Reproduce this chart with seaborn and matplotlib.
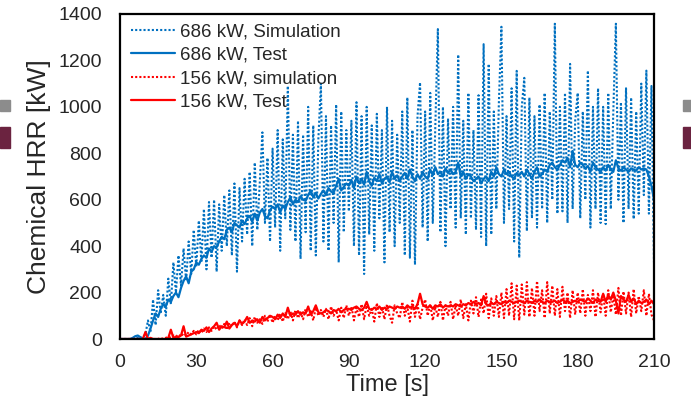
import numpy as np
import pandas as pd
import seaborn as sns
import matplotlib.pyplot as plt
from matplotlib.patches import Rectangle

# time axis, 1 s steps
time_s = np.arange(0, 211)

test_686 = [
    0, 0, 0, 0, 0, 5, 12, 15, 8, 3,
    0, 15, 45, 80, 110, 95, 130, 150, 140, 170,
    160, 185, 200, 180, 220, 250, 270, 240, 290, 300,
    330, 320, 345, 360, 350, 390, 375, 400, 395, 420,
    440, 430, 470, 480, 460, 500, 490, 480, 510, 495,
    520, 530, 505, 540, 510, 545, 560, 530, 520, 555,
    570, 560, 580, 545, 575, 560, 590, 610, 580, 600,
    590, 615, 600, 595, 620, 640, 610, 630, 605, 625,
    640, 620, 650, 635, 630, 660, 690, 640, 655, 670,
    660, 685, 650, 700, 670, 690, 665, 720, 680, 660,
    695, 680, 710, 670, 690, 700, 675, 720, 690, 705,
    680, 700, 715, 690, 730, 700, 680, 710, 690, 720,
    700, 690, 730, 705, 740, 710, 720, 700, 735, 715,
    730, 710, 720, 760, 700, 720, 690, 710, 700, 680,
    690, 700, 670, 690, 700, 680, 720, 700, 740, 710,
    700, 730, 710, 720, 700, 690, 715, 705, 720, 700,
    730, 710, 690, 720, 740, 700, 710, 730, 720, 750,
    760, 740, 730, 750, 770, 760, 780, 740, 810, 750,
    740, 760, 750, 735, 745, 720, 760, 740, 730, 720,
    740, 725, 750, 730, 720, 770, 735, 725, 740, 730,
    720, 735, 730, 725, 740, 730, 735, 730, 700, 660,
    600,
]

sim_686 = [
    0, 0, 0, 0, 0, 0, 0, 5, 0, 10,
    20, 80, 30, 170, 60, 210, 110, 190, 100, 260,
    150, 330, 200, 360, 230, 390, 250, 420, 280, 470,
    310, 510, 330, 560, 300, 590, 350, 600, 290, 580,
    380, 620, 400, 640, 360, 670, 290, 650, 420, 690,
    450, 720, 400, 760, 470, 680, 890, 500, 780, 420,
    820, 480, 900, 380, 860, 520, 1090, 470, 880, 420,
    940, 345, 880, 460, 1000, 380, 920, 360, 860, 1100,
    420, 960, 380, 920, 500, 1010, 330, 980, 460, 900,
    550, 940, 400, 1020, 360, 960, 280, 1000, 450, 920,
    380, 970, 520, 900, 330, 1000, 460, 940, 400, 880,
    500, 980, 360, 1040, 350, 900, 320, 960, 1105, 480,
    980, 420, 1060, 500, 920, 1335, 460, 1000, 400, 950,
    560, 1000, 480, 1225, 520, 940, 450, 1060, 520, 900,
    470, 1050, 440, 1270, 400, 1185, 450, 980, 560, 1020,
    1345, 500, 960, 560, 1080, 420, 1155, 350, 1000, 1125,
    465, 1040, 520, 960, 480, 1010, 560, 1060, 500, 980,
    600, 1358, 540, 1000, 550, 1060, 500, 1185, 560, 940,
    1060, 520, 980, 600, 1156, 480, 1000, 560, 1080, 500,
    1000, 495, 1060, 560, 980, 1358, 600, 1020, 500, 1080,
    560, 1040, 517, 980, 540, 1100, 620, 1156, 540, 1090,
    330,
]

test_156 = [
    0, 0, 0, 0, 0, 0, 0, 0, 0, 0,
    30, 0, 5, 0, 0, 0, 0, 0, 0, 5,
    40, 5, 10, 8, 15, 55, 10, 15, 20, 25,
    30, 25, 40, 35, 50, 30, 45, 55, 70, 40,
    55, 50, 75, 45, 60, 70, 55, 80, 65, 75,
    95, 70, 80, 75, 85, 70, 95, 80, 90, 100,
    95, 85, 105, 90, 110, 95, 135, 100, 110, 105,
    120, 105, 115, 110, 140, 105, 120, 145, 115, 110,
    115, 125, 120, 110, 125, 120, 130, 115, 125, 130,
    130, 125, 135, 140, 130, 125, 135, 160, 130, 125,
    135, 130, 140, 125, 135, 130, 140, 135, 130, 140,
    135, 140, 130, 145, 135, 140, 130, 150, 195, 150,
    140, 135, 145, 130, 145, 140, 150, 135, 145, 140,
    145, 140, 150, 145, 140, 150, 145, 155, 150, 160,
    150, 155, 145, 185, 150, 145, 155, 150, 160, 155,
    150, 160, 155, 165, 160, 155, 160, 165, 160, 155,
    165, 160, 155, 165, 160, 170, 160, 155, 165, 160,
    160, 165, 155, 160, 170, 160, 165, 155, 160, 165,
    160, 170, 165, 160, 175, 165, 155, 170, 165, 160,
    195, 160, 190, 170, 200, 165, 110, 185, 170, 160,
    190, 160, 175, 150, 165, 155, 160, 170, 150, 165,
    150,
]

sim_156 = [
    0, 0, 0, 0, 0, 0, 0, 0, 0, 0,
    0, 0, 0, 0, 0, 0, 5, 0, 5, 10,
    5, 15, 10, 20, 10, 25, 15, 30, 20, 35,
    20, 40, 25, 45, 30, 50, 35, 55, 40, 60,
    45, 65, 40, 70, 55, 75, 50, 80, 60, 85,
    60, 90, 55, 95, 70, 85, 65, 100, 75, 105,
    70, 100, 80, 110, 75, 115, 85, 120, 80, 125,
    90, 115, 85, 130, 95, 120, 80, 135, 100, 125,
    95, 130, 85, 140, 100, 125, 80, 135, 90, 145,
    100, 140, 80, 135, 95, 150, 85, 145, 100, 130,
    75, 155, 95, 140, 85, 150, 100, 70, 145, 110,
    90, 160, 100, 140, 75, 165, 95, 150, 85, 135,
    170, 100, 150, 80, 140, 95, 160, 80, 145, 100,
    160, 85, 145, 100, 170, 90, 150, 80, 165, 110,
    180, 95, 170, 110, 195, 90, 175, 100, 185, 95,
    200, 90, 215, 100, 240, 85, 230, 80, 235, 105,
    245, 95, 220, 100, 250, 120, 210, 90, 245, 110,
    230, 100, 215, 95, 225, 120, 200, 90, 210, 105,
    200, 110, 215, 100, 190, 120, 210, 95, 200, 115,
    195, 100, 210, 115, 190, 105, 220, 100, 205, 110,
    200, 95, 215, 110, 185, 120, 210, 100, 195, 105,
    80,
]

x_ticks = [0, 30, 60, 90, 120, 150, 180, 210]
y_ticks = [0, 200, 400, 600, 800, 1000, 1200, 1400]

blue = "#0070C0"
red = "#FF0000"
dots = (0, (1, 1))

sns.set_style("white")
plt.rcParams['font.family'] = ['Liberation Sans', 'DejaVu Sans']

fig = plt.figure(figsize=(6.91, 4.09), dpi=100)
ax = fig.add_axes([120 / 691, 1 - 339 / 409, (654 - 120) / 691, (339 - 14) / 409])

sns.lineplot(x=time_s, y=sim_686, ax=ax, color=blue, linestyle=dots, linewidth=1.5,
             label="686 kW, Simulation")
sns.lineplot(x=time_s, y=test_686, ax=ax, color=blue, linewidth=1.6, label="686 kW, Test")
sns.lineplot(x=time_s, y=sim_156, ax=ax, color=red, linestyle=dots, linewidth=1.5,
             label="156 kW, simulation")
sns.lineplot(x=time_s, y=test_156, ax=ax, color=red, linewidth=1.6, label="156 kW, Test")

ax.set_xlim(0, 210)
ax.set_ylim(0, 1400)
ax.set_xticks(x_ticks)
ax.set_yticks(y_ticks)
ax.tick_params(length=0, labelsize=14)
ax.tick_params(axis="y", pad=13)
ax.tick_params(axis="x", pad=11)
for s in ax.spines.values():
    s.set_color("black")
    s.set_linewidth(1.6)

ax.set_xlabel("Time [s]", fontsize=17, labelpad=2)
ax.set_ylabel("Chemical HRR [kW]", fontsize=19, labelpad=5)

ax.legend(loc="upper left", bbox_to_anchor=(0.02, 0.972), frameon=False,
          fontsize=13.5, handlelength=2.35, handletextpad=0.3,
          labelspacing=0.34, borderaxespad=0, borderpad=0)

# slide decorations on both edges
for x0 in (0, 683):
    fig.patches.append(Rectangle((x0 / 691, 1 - 111 / 409), 10 / 691, 11 / 409,
                                 transform=fig.transFigure, color="#8c8c8c"))
    fig.patches.append(Rectangle((x0 / 691, 1 - 148 / 409), 10 / 691, 21 / 409,
                                 transform=fig.transFigure, color="#6b2340"))

fig.savefig("out.png", dpi=100)
